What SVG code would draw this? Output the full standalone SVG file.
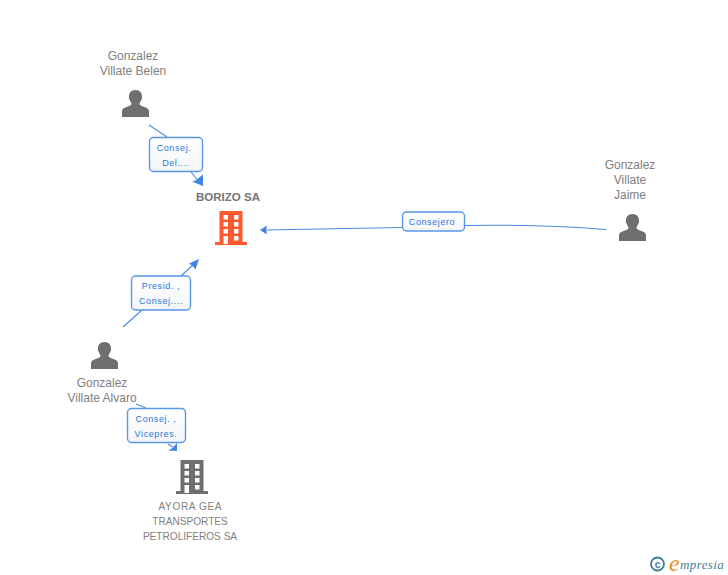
<svg xmlns="http://www.w3.org/2000/svg" xmlns:xlink="http://www.w3.org/1999/xlink" width="728" height="575" viewBox="0 0 728 575">
<style>
text{font-family:"Liberation Sans",Arial,sans-serif}
.n{font-size:12px;fill:#808080;text-anchor:middle}
.s{font-size:10.100px;fill:#808080;text-anchor:middle}
.b{font-size:11.500px;font-weight:bold;fill:#747474;text-anchor:middle}
.l{font-size:9px;fill:#2a76dc;text-anchor:middle;letter-spacing:.6px}
.c{fill:none;stroke:#4a8ae0;stroke-width:1.100}
.h{fill:#3f86e4}
.box{fill:url(#g);stroke:#5a97e6;stroke-width:1.400}
</style>
<defs>
<linearGradient id="g" x1="0" y1="0" x2="0" y2="1"><stop offset="0" stop-color="#ffffff"/><stop offset="1" stop-color="#f3f5f8"/></linearGradient>
<path id="person" fill="#6f6f6f" d="M0 27V21.500C0 18.500 3 17.500 6 16.500C8.500 15.600 9.500 15 9.500 13.800C9.500 12.800 8 11.500 7.600 9.500C7 9 6.700 8 7 7.200C6.700 3 9 0 13.500 0C18 0 20.300 3 20 7.200C20.300 8 20 9 19.400 9.500C19 11.500 17.500 12.800 17.500 13.800C17.500 15 18.500 15.600 21 16.500C24 17.500 27 18.500 27 21.500V27Z"/>
<path id="building" fill-rule="evenodd" d="M4.500 0H27.500V31H32V34H0V31H4.500ZM8.500 4V8.500H13V4ZM19 4V8.500H23.500V4ZM8.500 11V15.500H13V11ZM19 11V15.500H23.500V11ZM8.500 18V22.500H13V18ZM19 18V22.500H23.500V18ZM8.500 25V33H13V25ZM19 25V29.500H23.500V25Z"/>
</defs>
<g id="connectors">
<path class="c" d="M149 125L167 137"/><path class="c" d="M191 172L199 182"/><path class="h" d="M203 186L192 181.500L195.500 180.500L198.500 178L203 174.500Z"/>
<path class="c" d="M123 327L142 310"/><path class="c" d="M181 276L196 262"/><path class="h" d="M199 259L195.500 269.500L192.500 266L189 263.500Z"/>
<path class="c" d="M136 404L146 408"/><path class="c" d="M168 444L173 447"/><path class="h" d="M177 451L168 450.500L172.500 448L177 443Z"/>
<path class="c" d="M606 229.500Q540 224 465 225.500"/><path class="c" d="M402 227.500L265 230"/><path class="h" d="M260 230L267 225.500L266 230L267 234.500Z"/>
</g>
<g id="edge-label-belen"><rect class="box" x="149.500" y="137.500" width="53" height="34" rx="4"/><text class="l" x="174" y="151">Consej.</text><text class="l" x="176" y="166">Del....</text></g>
<g id="edge-label-alvaro-borizo"><rect class="box" x="131.500" y="276" width="59" height="34" rx="4"/><text class="l" x="161" y="289">Presid. ,</text><text class="l" x="161" y="304">Consej....</text></g>
<g id="edge-label-alvaro-ayora"><rect class="box" x="127.500" y="408.500" width="58" height="34" rx="4"/><text class="l" x="156" y="422">Consej. ,</text><text class="l" x="156" y="437">Vicepres.</text></g>
<g id="edge-label-jaime"><rect class="box" x="402.500" y="212" width="62" height="19" rx="4"/><text class="l" x="432" y="225">Consejero</text></g>
<g id="node-belen"><text class="n" x="133" y="60">Gonzalez</text><text class="n" x="133" y="75">Villate Belen</text><use xlink:href="#person" href="#person" x="122" y="90"/></g>
<g id="node-borizo"><text class="b" x="228" y="201">BORIZO SA</text><use href="#building" xlink:href="#building" x="215" y="211" fill="#ff5a2e"/></g>
<g id="node-jaime"><text class="n" x="630" y="169">Gonzalez</text><text class="n" x="630" y="184">Villate</text><text class="n" x="630" y="199">Jaime</text><use href="#person" xlink:href="#person" x="619" y="214"/></g>
<g id="node-alvaro"><text class="n" x="102" y="387">Gonzalez</text><text class="n" x="102" y="402">Villate Alvaro</text><use href="#person" xlink:href="#person" x="91" y="342"/></g>
<g id="node-ayora"><use href="#building" xlink:href="#building" x="176" y="460" fill="#6f6f6f"/><text class="s" x="190" y="510" textLength="63">AYORA GEA</text><text class="s" x="190" y="525">TRANSPORTES</text><text class="s" x="190" y="540">PETROLIFEROS SA</text></g>
<g id="logo"><circle cx="657.500" cy="564" r="6.500" fill="none" stroke="#3f7f95" stroke-width="1.800"/><text x="657.500" y="567.500" font-size="10" font-weight="bold" fill="#3f7f95" text-anchor="middle">c</text><text x="669" y="571" font-size="24" font-style="italic" fill="#f08a1d" style="font-family:'Liberation Serif',serif">e</text><text x="680" y="569" font-size="13" font-style="italic" fill="#3f7f95" style="font-family:'Liberation Serif',serif" letter-spacing=".4">mpresia</text></g>
</svg>
